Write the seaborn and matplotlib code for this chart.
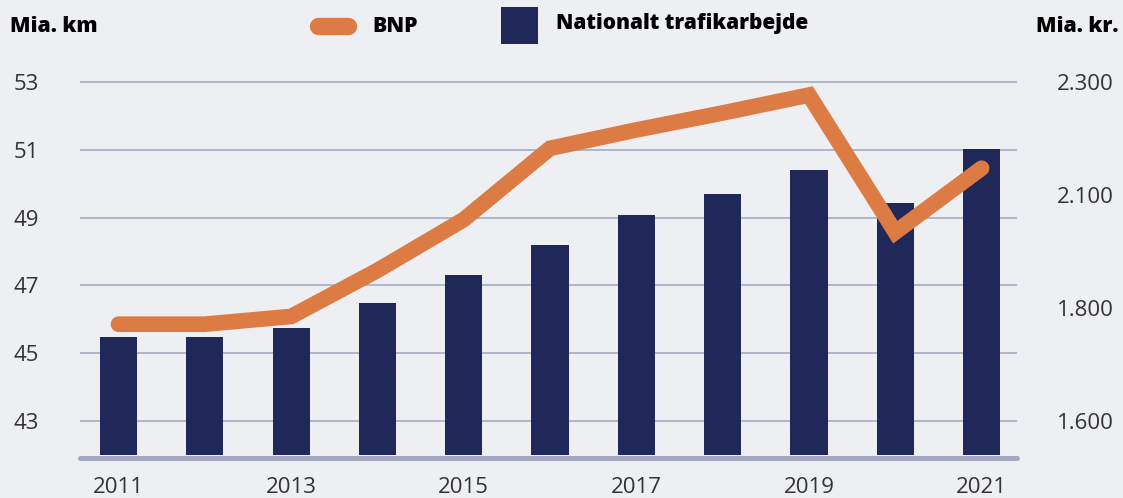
import pandas as pd
import seaborn as sns
import matplotlib.pyplot as plt
from matplotlib.lines import Line2D
from matplotlib.patches import Rectangle

# data
years = [2011, 2012, 2013, 2014, 2015, 2016, 2017, 2018, 2019, 2020, 2021]
trafik = [45.47, 45.47, 45.75, 46.48, 47.30, 48.19, 49.07, 49.69, 50.40, 49.43, 51.02]
bnp = [1800, 1800, 1816, 1911, 2016, 2163, 2201, 2236, 2273, 1990, 2122]

left_ticks = [43, 45, 47, 49, 51, 53]
right_ticks = [1600, 1833.3, 2066.7, 2300]
right_labels = ["1.600", "1.800", "2.100", "2.300"]
year_ticks = [2011, 2013, 2015, 2017, 2019, 2021]

bg = "#EEEFF3"
navy = "#1F2858"
orange = "#DD7B44"
grid_c = "#ABB1C6"
txt = "#333333"

sns.set_style("white")
plt.rcParams["font.family"] = ["Open Sans", "DejaVu Sans"]

df = pd.DataFrame({"year": years, "trafik": trafik, "bnp": bnp})

fig = plt.figure(figsize=(11.23, 4.98), dpi=100, facecolor=bg)
ax = fig.add_axes([80 / 1123, 43 / 498, 937 / 1123, 390 / 498])
ax.set_facecolor(bg)

sns.barplot(data=df, x="year", y="trafik", native_scale=True, width=0.43,
            color=navy, saturation=1, linewidth=0, ax=ax, zorder=2)

ax.set_xlim(2011 - 0.446, 2021.41)
ax.set_ylim(42, 53.5)
ax.set_yticks(left_ticks)
ax.set_xticks(year_ticks)
ax.set_xticklabels([str(y) for y in year_ticks])
ax.yaxis.grid(True, color=grid_c, lw=1.3, zorder=0)
ax.set_axisbelow(True)
ax.tick_params(axis="y", length=0, pad=29.5, labelsize=16, labelcolor=txt)
ax.tick_params(axis="x", length=0, pad=16, labelsize=16, labelcolor=txt)
ax.set_xlabel("")
ax.set_ylabel("")
for s in ax.spines.values():
    s.set_visible(False)
# thick grey base line
ax.axhline(42 - 2.5 / 33.87, color="#A4A8BE", lw=3.6, clip_on=False, zorder=3)

ax2 = ax.twinx()
sns.lineplot(data=df, x="year", y="bnp", ax=ax2, color=orange, lw=11.3,
             solid_capstyle="round", solid_joinstyle="miter")
ax2.set_ylim(1600 + 70 * (42 - 43), 1600 + 70 * (53.5 - 43))
ax2.set_yticks(right_ticks)
ax2.set_yticklabels(right_labels)
ax2.tick_params(axis="y", length=0, pad=29, labelsize=16, labelcolor=txt)
ax2.set_xlabel("")
ax2.set_ylabel("")
for s in ax2.spines.values():
    s.set_visible(False)

# header texts
fig.text(10 / 1123, 1 - 26 / 498, "Mia. km", fontsize=15.3, fontweight="heavy",
         color="black", va="center", ha="left")
fig.text(1118 / 1123, 1 - 26 / 498, "Mia. kr.", fontsize=15.3, fontweight="heavy",
         color="black", va="center", ha="right")

# legend
fig.add_artist(Line2D([318 / 1123, 348 / 1123], [1 - 26 / 498, 1 - 26 / 498],
                      color=orange, lw=12.5, solid_capstyle="round"))
fig.text(372 / 1123, 1 - 26 / 498, "BNP", fontsize=15.3, fontweight="heavy",
         color="black", va="center", ha="left")
fig.add_artist(Rectangle((501 / 1123, 1 - 44 / 498), 37 / 1123, 37 / 498,
                         transform=fig.transFigure, color=navy, lw=0))
fig.text(556 / 1123, 1 - 24 / 498, "Nationalt trafikarbejde", fontsize=15.0,
         fontweight="heavy", color="black", va="center", ha="left")

fig.savefig("out.png", dpi=100, facecolor=bg)
